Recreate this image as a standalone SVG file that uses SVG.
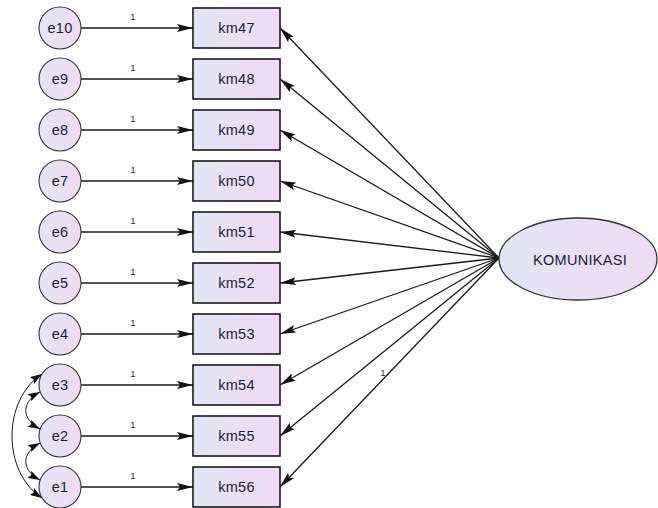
<svg xmlns="http://www.w3.org/2000/svg" width="658" height="508" viewBox="0 0 658 508">
  <defs>
    <linearGradient id="shade" x1="0" y1="0" x2="1" y2="0">
      <stop offset="0" stop-color="#e3e6f4"/>
      <stop offset="1" stop-color="#eedbf3"/>
    </linearGradient>
    <marker id="head" viewBox="0 0 16 8" refX="16" refY="4" markerWidth="16" markerHeight="8" markerUnits="userSpaceOnUse" orient="auto-start-reverse">
      <path d="M0,0 L16,4 L0,8 L3,4 Z" fill="#111"/>
    </marker>
    <marker id="headS" viewBox="0 0 12 8" refX="12" refY="4" markerWidth="12" markerHeight="8" markerUnits="userSpaceOnUse" orient="auto-start-reverse">
      <path d="M0,0 L12,4 L0,8 L2,4 Z" fill="#111"/>
    </marker>
    <style>
      .box { fill: url(#shade); stroke: #1a1a1a; stroke-width: 1.6; }
      .err { fill: url(#shade); stroke: #333; stroke-width: 1.1; }
      .lat { fill: url(#shade); stroke: #333; stroke-width: 1.3; }
      .lbl { font-family: "Liberation Sans", Arial, sans-serif; font-size: 14.5px; letter-spacing: 0.3px; fill: #1c1c38; text-anchor: middle; dominant-baseline: central; }
      .w { font-family: "Liberation Sans", Arial, sans-serif; font-size: 9.5px; fill: #2a2a3a; text-anchor: middle; }
      .arr { stroke: #1a1a1a; stroke-width: 1.3; fill: none; marker-end: url(#head); }
      .cov { stroke: #1a1a1a; stroke-width: 1; fill: none; marker-start: url(#headS); marker-end: url(#headS); }
    </style>
  </defs>

  <!-- connectors -->
  <g id="connectors">
    <!-- error terms to indicators -->
    <line class="arr" x1="81" y1="28" x2="193" y2="28"/>
    <line class="arr" x1="81" y1="79" x2="193" y2="79"/>
    <line class="arr" x1="81" y1="130" x2="193" y2="130"/>
    <line class="arr" x1="81" y1="181" x2="193" y2="181"/>
    <line class="arr" x1="81" y1="232" x2="193" y2="232"/>
    <line class="arr" x1="81" y1="283" x2="193" y2="283"/>
    <line class="arr" x1="81" y1="334" x2="193" y2="334"/>
    <line class="arr" x1="81" y1="385" x2="193" y2="385"/>
    <line class="arr" x1="81" y1="436" x2="193" y2="436"/>
    <line class="arr" x1="81" y1="487" x2="193" y2="487"/>
    <text class="w" x="133" y="20">1</text>
    <text class="w" x="133" y="71">1</text>
    <text class="w" x="133" y="122">1</text>
    <text class="w" x="133" y="173">1</text>
    <text class="w" x="133" y="224">1</text>
    <text class="w" x="133" y="275">1</text>
    <text class="w" x="133" y="326">1</text>
    <text class="w" x="133" y="377">1</text>
    <text class="w" x="133" y="428">1</text>
    <text class="w" x="133" y="479">1</text>

    <!-- latent factor loadings -->
    <line class="arr" x1="499" y1="258" x2="280" y2="28"/>
    <line class="arr" x1="499" y1="258" x2="280" y2="79"/>
    <line class="arr" x1="499" y1="258" x2="280" y2="130"/>
    <line class="arr" x1="499" y1="258" x2="280" y2="181"/>
    <line class="arr" x1="499" y1="258" x2="280" y2="232"/>
    <line class="arr" x1="499" y1="258" x2="280" y2="283"/>
    <line class="arr" x1="499" y1="258" x2="280" y2="334"/>
    <line class="arr" x1="499" y1="258" x2="280" y2="385"/>
    <line class="arr" x1="499" y1="258" x2="280" y2="436"/>
    <line class="arr" x1="499" y1="258" x2="280" y2="487"/>
    <text class="w" x="383" y="376">1</text>

    <!-- error covariances -->
    <path class="cov" d="M42,374 C2,400 2,472 42,498"/>
    <path class="cov" d="M40,392 C21,402 21,419 40,429"/>
    <path class="cov" d="M40,443 C21,453 21,470 40,480"/>
  </g>

  <!-- error terms -->
  <g id="e10"><circle class="err" cx="60" cy="28" r="21"/><text class="lbl" x="60" y="28">e10</text></g>
  <g id="e9"><circle class="err" cx="60" cy="79" r="21"/><text class="lbl" x="60" y="79">e9</text></g>
  <g id="e8"><circle class="err" cx="60" cy="130" r="21"/><text class="lbl" x="60" y="130">e8</text></g>
  <g id="e7"><circle class="err" cx="60" cy="181" r="21"/><text class="lbl" x="60" y="181">e7</text></g>
  <g id="e6"><circle class="err" cx="60" cy="232" r="21"/><text class="lbl" x="60" y="232">e6</text></g>
  <g id="e5"><circle class="err" cx="60" cy="283" r="21"/><text class="lbl" x="60" y="283">e5</text></g>
  <g id="e4"><circle class="err" cx="60" cy="334" r="21"/><text class="lbl" x="60" y="334">e4</text></g>
  <g id="e3"><circle class="err" cx="60" cy="385" r="21"/><text class="lbl" x="60" y="385">e3</text></g>
  <g id="e2"><circle class="err" cx="60" cy="436" r="21"/><text class="lbl" x="60" y="436">e2</text></g>
  <g id="e1"><circle class="err" cx="60" cy="487" r="21"/><text class="lbl" x="60" y="487">e1</text></g>

  <!-- observed indicators -->
  <g id="km47"><rect class="box" x="193" y="8" width="87" height="40"/><text class="lbl" x="236.5" y="28">km47</text></g>
  <g id="km48"><rect class="box" x="193" y="59" width="87" height="40"/><text class="lbl" x="236.5" y="79">km48</text></g>
  <g id="km49"><rect class="box" x="193" y="110" width="87" height="40"/><text class="lbl" x="236.5" y="130">km49</text></g>
  <g id="km50"><rect class="box" x="193" y="161" width="87" height="40"/><text class="lbl" x="236.5" y="181">km50</text></g>
  <g id="km51"><rect class="box" x="193" y="212" width="87" height="40"/><text class="lbl" x="236.5" y="232">km51</text></g>
  <g id="km52"><rect class="box" x="193" y="263" width="87" height="40"/><text class="lbl" x="236.5" y="283">km52</text></g>
  <g id="km53"><rect class="box" x="193" y="314" width="87" height="40"/><text class="lbl" x="236.5" y="334">km53</text></g>
  <g id="km54"><rect class="box" x="193" y="365" width="87" height="40"/><text class="lbl" x="236.5" y="385">km54</text></g>
  <g id="km55"><rect class="box" x="193" y="416" width="87" height="40"/><text class="lbl" x="236.5" y="436">km55</text></g>
  <g id="km56"><rect class="box" x="193" y="467" width="87" height="40"/><text class="lbl" x="236.5" y="487">km56</text></g>

  <!-- latent construct -->
  <g id="KOMUNIKASI">
    <ellipse class="lat" cx="578" cy="259" rx="79" ry="41"/>
    <text class="lbl" x="580" y="260">KOMUNIKASI</text>
  </g>
</svg>
